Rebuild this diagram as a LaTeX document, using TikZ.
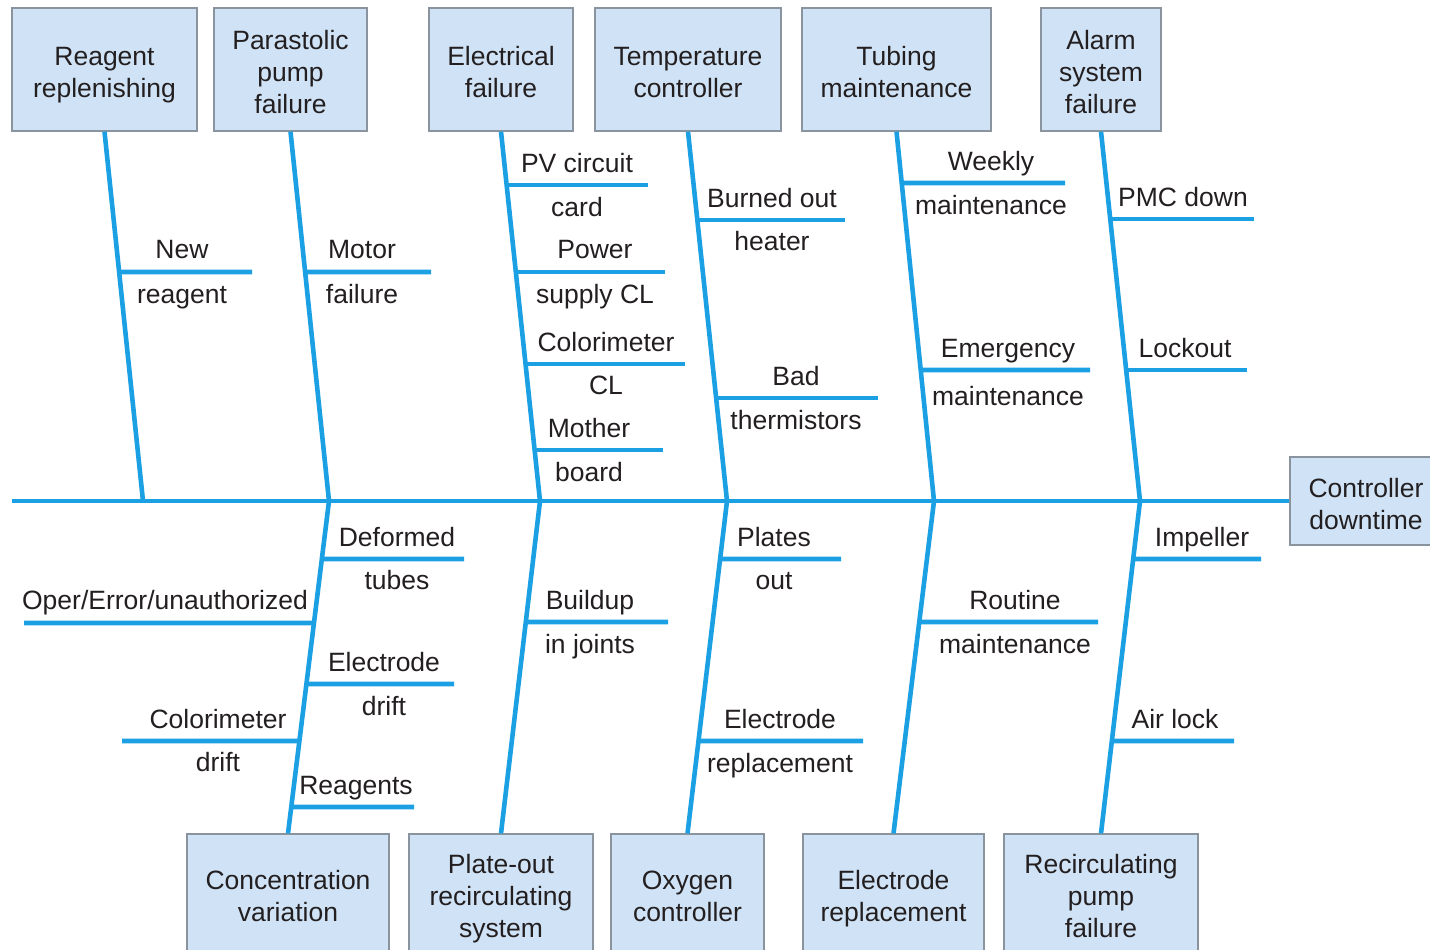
\documentclass[tikz,border=0pt]{standalone}
\usepackage{fontspec}
\setmainfont{Liberation Sans}
\definecolor{bonec}{RGB}{28,160,228}
\definecolor{boxfill}{RGB}{208,227,246}
\definecolor{boxline}{RGB}{138,148,158}
\definecolor{txt}{RGB}{35,31,32}
\newcommand\fs{\fontsize{26.5}{32}\selectfont}
\newcommand\boxtop{\rule{0pt}{30pt}}
\newcommand\boxbot{\rule[-6pt]{0pt}{6pt}}
\newcommand\twig[5]{%
  \coordinate (#5a) at (intersection of #1--#2 and 0,#3--1430,#3);
  \coordinate (#5b) at (#4,#3);
  \draw[bone] (#5a) -- (#5b);}
\begin{document}
\begin{tikzpicture}[x=1pt,y=-1pt,
  bone/.style={line width=4.6pt,draw=bonec},
  box/.style={draw=boxline,line width=1.2pt,fill=boxfill,inner sep=0pt,align=center,font=\fs,text=txt,minimum height=123pt},
  bbox/.style={box,minimum height=118pt},
  lbl/.style={anchor=base,font=\fs,text=txt,inner sep=0pt}]
\clip (0,0) rectangle (1430,950);
\fill[white] (0,0) rectangle (1430,950);
% spine joints
\coordinate (S0) at (12,501);
\coordinate (J1) at (143,501);
\coordinate (J2) at (329,501);
\coordinate (J3) at (540,501);
\coordinate (J4) at (727,501);
\coordinate (J5) at (934,501);
\coordinate (J6) at (1140,501);
% boxes
\node[box,minimum width=185pt] (T1) at (104.5,69.5) {\boxtop Reagent\\replenishing\boxbot};
\node[box,minimum width=153pt] (T2) at (290.5,69.5) {\boxtop Parastolic\\pump\\failure\boxbot};
\node[box,minimum width=144pt] (T3) at (501,69.5) {\boxtop Electrical\\failure\boxbot};
\node[box,minimum width=186pt] (T4) at (688,69.5) {\boxtop Temperature\\controller\boxbot};
\node[box,minimum width=189pt] (T5) at (896.5,69.5) {\boxtop Tubing\\maintenance\boxbot};
\node[box,minimum width=120pt] (T6) at (1101,69.5) {\boxtop Alarm\\system\\failure\boxbot};
\node[box,minimum width=152pt,minimum height=88pt] (C) at (1366,501) {\boxtop Controller\\downtime\boxbot};
\node[bbox,minimum width=202pt] (B1) at (288,893) {\boxtop Concentration\\variation\boxbot};
\node[bbox,minimum width=184pt] (B2) at (501,893) {\boxtop Plate-out\\recirculating\\system\boxbot};
\node[bbox,minimum width=153pt] (B3) at (687.5,893) {\boxtop Oxygen\\controller\boxbot};
\node[bbox,minimum width=181pt] (B4) at (893.5,893) {\boxtop Electrode\\replacement\boxbot};
\node[bbox,minimum width=194pt] (B5) at (1101,893) {\boxtop Recirculating\\pump\\failure\boxbot};
% spine and bones
\draw[bone] (S0) -- (S0 -| C.west);
\draw[bone] (T1.south) -- (J1);
\draw[bone] (T2.south) -- (J2);
\draw[bone] (T3.south) -- (J3);
\draw[bone] (T4.south) -- (J4);
\draw[bone] (T5.south) -- (J5);
\draw[bone] (T6.south) -- (J6);
\draw[bone] (J2) -- (B1.north);
\draw[bone] (J3) -- (B2.north);
\draw[bone] (J4) -- (B3.north);
\draw[bone] (J5) -- (B4.north);
\draw[bone] (J6) -- (B5.north);
% twigs, top
\twig{T1.south}{J1}{272}{252}{wa}
\twig{T2.south}{J2}{272}{431}{wb}
\twig{T3.south}{J3}{185}{648}{wc}
\twig{T3.south}{J3}{272}{665}{wd}
\twig{T3.south}{J3}{364}{685}{we}
\twig{T3.south}{J3}{450}{663}{wf}
\twig{T4.south}{J4}{220}{845}{wg}
\twig{T4.south}{J4}{398}{878}{wh}
\twig{T5.south}{J5}{183}{1065}{wi}
\twig{T5.south}{J5}{370}{1090}{wj}
\twig{T6.south}{J6}{219}{1254}{wk}
\twig{T6.south}{J6}{370}{1247}{wl}
% twigs, bottom
\twig{J2}{B1.north}{559}{464}{wm}
\twig{J2}{B1.north}{623}{24}{wn}
\twig{J2}{B1.north}{684}{454}{wo}
\twig{J2}{B1.north}{741}{122}{wp}
\twig{J2}{B1.north}{807}{414}{wq}
\twig{J3}{B2.north}{622}{668}{wr}
\twig{J4}{B3.north}{559}{841}{ws}
\twig{J4}{B3.north}{741}{863}{wt}
\twig{J5}{B4.north}{622}{1098}{wu}
\twig{J6}{B5.north}{559}{1261}{wv}
\twig{J6}{B5.north}{741}{1234}{ww}
% labels, top
\node[lbl] (la1) at (182,258) {New};
\node[lbl] (la2) at (182,303) {reagent};
\node[lbl] (lb1) at (362,258) {Motor};
\node[lbl] (lb2) at (362,303) {failure};
\node[lbl] (lc1) at (577,172) {PV circuit};
\node[lbl] (lc2) at (577,216) {card};
\node[lbl] (ld1) at (595,258) {Power};
\node[lbl] (ld2) at (595,303) {supply CL};
\node[lbl] (le1) at (606,351) {Colorimeter};
\node[lbl] (le2) at (606,394) {CL};
\node[lbl] (lf1) at (589,437) {Mother};
\node[lbl] (lf2) at (589,481) {board};
\node[lbl] (lg1) at (772,207) {Burned out};
\node[lbl] (lg2) at (772,250) {heater};
\node[lbl] (lh1) at (796,385) {Bad};
\node[lbl] (lh2) at (796,429) {thermistors};
\node[lbl] (li1) at (991,170) {Weekly};
\node[lbl] (li2) at (991,214) {maintenance};
\node[lbl] (lj1) at (1008,357) {Emergency};
\node[lbl] (lj2) at (1008,405) {maintenance};
\node[lbl] (lk1) at (1183,206) {PMC down};
\node[lbl] (ll1) at (1185,357) {Lockout};
% labels, bottom
\node[lbl] (lm1) at (397,546) {Deformed};
\node[lbl] (lm2) at (397,589) {tubes};
\node[lbl] (ln1) at (165,609) {Oper/Error/unauthorized};
\node[lbl] (lo1) at (384,671) {Electrode};
\node[lbl] (lo2) at (384,715) {drift};
\node[lbl] (lp1) at (218,728) {Colorimeter};
\node[lbl] (lp2) at (218,771) {drift};
\node[lbl] (lq1) at (356,794) {Reagents};
\node[lbl] (lr1) at (590,609) {Buildup};
\node[lbl] (lr2) at (590,653) {in joints};
\node[lbl] (ls1) at (774,546) {Plates};
\node[lbl] (ls2) at (774,589) {out};
\node[lbl] (lt1) at (780,728) {Electrode};
\node[lbl] (lt2) at (780,772) {replacement};
\node[lbl] (lu1) at (1015,609) {Routine};
\node[lbl] (lu2) at (1015,653) {maintenance};
\node[lbl] (lv1) at (1202,546) {Impeller};
\node[lbl] (lw1) at (1175,728) {Air lock};
\end{tikzpicture}
\end{document}
